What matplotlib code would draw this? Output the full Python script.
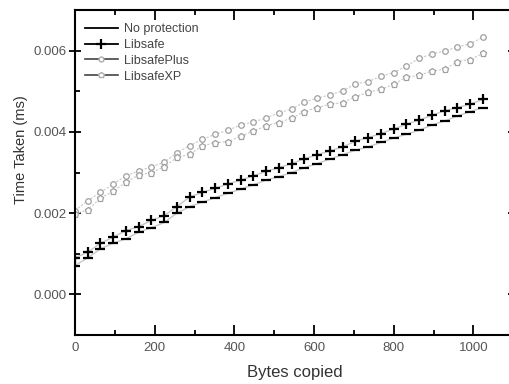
import matplotlib.pyplot as plt
from matplotlib.lines import Line2D
from matplotlib.ticker import MultipleLocator, FormatStrFormatter

plt.rcParams['font.family'] = ['Liberation Sans', 'DejaVu Sans']

bytes_copied = list(range(0, 1025, 32))

no_protection = [0.00071, 0.00090, 0.00112, 0.00126, 0.00137, 0.00153, 0.00164, 0.00177,
                 0.00200, 0.00216, 0.00227, 0.00238, 0.00249, 0.00259, 0.00270, 0.00281,
                 0.00290, 0.00300, 0.00312, 0.00322, 0.00333, 0.00344, 0.00355, 0.00363,
                 0.00374, 0.00385, 0.00394, 0.00404, 0.00417, 0.00427, 0.00439, 0.00450,
                 0.00460]
libsafe = [0.00090, 0.00104, 0.00126, 0.00141, 0.00157, 0.00167, 0.00182, 0.00194,
           0.00216, 0.00240, 0.00251, 0.00261, 0.00272, 0.00281, 0.00292, 0.00303,
           0.00312, 0.00322, 0.00334, 0.00344, 0.00353, 0.00363, 0.00377, 0.00386,
           0.00396, 0.00407, 0.00419, 0.00429, 0.00441, 0.00452, 0.00460, 0.00468,
           0.00480]
libsafe_plus = [0.00206, 0.00231, 0.00251, 0.00272, 0.00292, 0.00304, 0.00314, 0.00325,
                0.00349, 0.00366, 0.00382, 0.00394, 0.00404, 0.00417, 0.00425, 0.00434,
                0.00447, 0.00456, 0.00474, 0.00483, 0.00491, 0.00501, 0.00518, 0.00524,
                0.00537, 0.00546, 0.00562, 0.00581, 0.00592, 0.00599, 0.00609, 0.00617,
                0.00633]
libsafe_xp = [0.00198, 0.00208, 0.00237, 0.00254, 0.00276, 0.00294, 0.00300, 0.00314,
              0.00337, 0.00345, 0.00366, 0.00373, 0.00376, 0.00390, 0.00402, 0.00415,
              0.00423, 0.00434, 0.00450, 0.00460, 0.00468, 0.00472, 0.00487, 0.00497,
              0.00505, 0.00517, 0.00535, 0.00539, 0.00550, 0.00554, 0.00573, 0.00578,
              0.00593]
labels = ['No protection', 'Libsafe', 'LibsafePlus', 'LibsafeXP']

fig = plt.figure(figsize=(5.09, 3.84), dpi=100)
# right spine sits just past the picture edge, as in the scan
ax = fig.add_axes([75 / 509, 1 - 335 / 384, 439 / 509, 325 / 384])

line_col = '#c8c8c8'
ax.plot(bytes_copied, libsafe_plus, color=line_col, lw=0.8, ls=(0, (2, 1.5)),
        marker='o', ms=4, mfc='white', mec='#a0a0a0', mew=0.9)
ax.plot(bytes_copied, libsafe_xp, color=line_col, lw=0.8, ls=(0, (2, 1.5)),
        marker='p', ms=4.5, mfc='white', mec='#a0a0a0', mew=0.9)
ax.plot(bytes_copied, no_protection, color=line_col, lw=1.0,
        marker='_', ms=6.5, mec='black', mew=1.6)
ax.plot(bytes_copied, libsafe, color=line_col, lw=1.0,
        marker='+', ms=6.5, mec='black', mew=1.6)

ax.set_xlim(0, 1102)
ax.set_ylim(-0.001, 0.007)
ax.xaxis.set_major_locator(MultipleLocator(200))
ax.xaxis.set_minor_locator(MultipleLocator(100))
ax.yaxis.set_major_locator(MultipleLocator(0.002))
ax.yaxis.set_minor_locator(MultipleLocator(0.001))
ax.yaxis.set_major_formatter(FormatStrFormatter('%.3f'))

for s in ax.spines.values():
    s.set_linewidth(1.5)
ax.tick_params(which='both', direction='in', top=True, right=True,
               labelsize=9.5, labelcolor='#555555', width=1.3, pad=5)
ax.tick_params(axis='y', which='major', direction='inout', length=8, pad=2)
ax.tick_params(axis='x', which='major', length=7)
ax.tick_params(which='minor', length=3.5)

ax.set_xlabel('Bytes copied', fontsize=12, color='#333333', labelpad=8)
ax.set_ylabel('Time Taken (ms)', fontsize=10.5, color='#333333')
ax.yaxis.set_label_coords(-0.107, 0.57)

handles = [
    Line2D([], [], color='black', lw=1.3),
    Line2D([], [], color='black', lw=1.3, marker='+', ms=7, mew=1.6),
    Line2D([], [], color='#444444', lw=1.2, marker='o', ms=3.5, mfc='white', mec='#aaaaaa'),
    Line2D([], [], color='#444444', lw=1.2, marker='p', ms=4, mfc='white', mec='#aaaaaa'),
]
leg = ax.legend(handles, labels, loc='upper left', frameon=False, fontsize=9,
                handlelength=2.6, handletextpad=0.55, labelspacing=0.3,
                borderaxespad=0.4, bbox_to_anchor=(0.0, 0.99))
for t in leg.get_texts():
    t.set_color('#444444')

fig.savefig('out.png', dpi=100)
